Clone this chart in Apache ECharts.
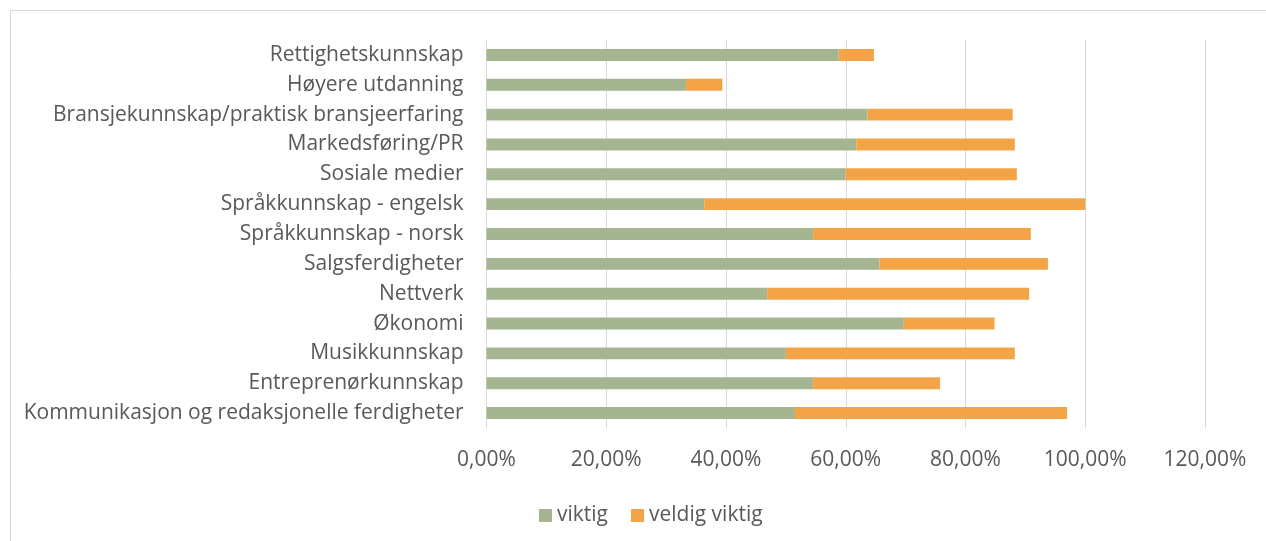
<!DOCTYPE html>
<html>
<head>
<meta charset="utf-8">
<script src="https://cdn.jsdelivr.net/npm/echarts@6/dist/echarts.min.js"></script>
<style>
  html, body { margin: 0; padding: 0; background: #fff; }
  #demo { width: 1266px; height: 541px; }
</style>
</head>
<body>
<div id="demo"></div>
<script>
// kategorier, ovenfra og ned
var categories = [
    'Rettighetskunnskap',
    'Høyere utdanning',
    'Bransjekunnskap/praktisk bransjeerfaring',
    'Markedsføring/PR',
    'Sosiale medier',
    'Språkkunnskap - engelsk',
    'Språkkunnskap - norsk',
    'Salgsferdigheter',
    'Nettverk',
    'Økonomi',
    'Musikkunnskap',
    'Entreprenørkunnskap',
    'Kommunikasjon og redaksjonelle ferdigheter'
];
// prosent
var viktig = [58.82, 33.33, 63.64, 61.76, 60.00, 36.36, 54.55, 65.63, 46.88, 69.70, 50.00, 54.55, 51.52];
var veldigViktig = [5.88, 6.06, 24.24, 26.47, 28.57, 63.64, 36.36, 28.13, 43.75, 15.15, 38.24, 21.21, 45.45];
var xTicks = [0, 20, 40, 60, 80, 100, 120];

window.onload = function() {
    var textColor = '#595959';
    var font = 'Open Sans';
    option = {
        animation: false,
        textStyle: { fontFamily: font },
        graphic: [{
            type: 'rect',
            shape: { x: 10.5, y: 10.5, width: 1400, height: 700 },
            style: { fill: 'none', stroke: '#d9d9d9', lineWidth: 1 },
            silent: true
        }],
        legend: {
            data: ['viktig', 'veldig viktig'],
            left: 534,
            top: 500,
            icon: 'rect',
            itemWidth: 13,
            itemHeight: 13,
            itemGap: 23,
            textStyle: { color: textColor, fontSize: 21, fontFamily: font }
        },
        grid: {
            left: 486.5,
            right: 61,
            top: 40,
            height: 388,
            containLabel: false
        },
        xAxis: {
            type: 'value',
            min: xTicks[0],
            max: xTicks[xTicks.length - 1],
            interval: 20,
            axisLine: { show: false },
            axisTick: { show: false },
            splitLine: { lineStyle: { color: '#d9d9d9', width: 1 } },
            axisLabel: {
                color: textColor,
                fontSize: 21,
                fontFamily: font,
                margin: 22,
                formatter: function(v) {
                    return v.toFixed(2).replace('.', ',') + '%';
                }
            }
        },
        yAxis: {
            type: 'category',
            data: categories,
            inverse: true,
            axisLine: { show: false },
            axisTick: { show: false },
            axisLabel: {
                color: textColor,
                fontSize: 21,
                fontFamily: font,
                margin: 23
            }
        },
        series: [{
            name: 'viktig',
            type: 'bar',
            stack: 'total',
            barWidth: '40%',
            itemStyle: { color: '#A5B592' },
            data: viktig
        }, {
            name: 'veldig viktig',
            type: 'bar',
            stack: 'total',
            barWidth: '40%',
            itemStyle: { color: '#F3A447' },
            data: veldigViktig
        }]
    };
    var myCharts = echarts.init(document.getElementById('demo'));
    myCharts.setOption(option);
};
</script>
</body>
</html>
